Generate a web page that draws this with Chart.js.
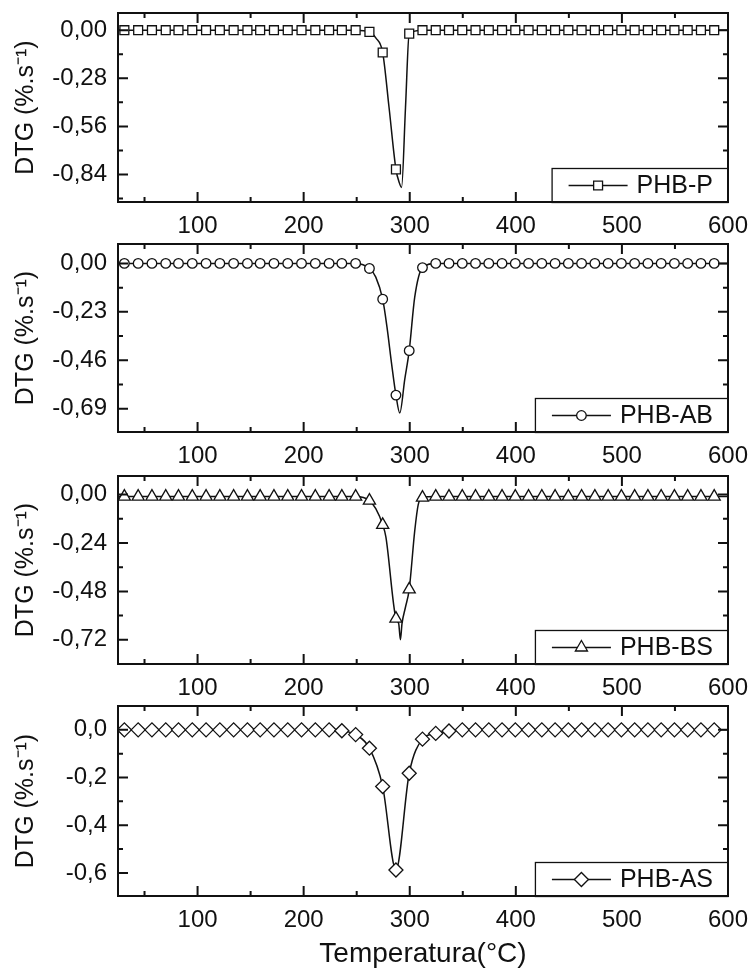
<!DOCTYPE html>
<html>
<head>
<meta charset="utf-8">
<script src="https://cdn.jsdelivr.net/npm/chart.js@4/dist/chart.umd.min.js"></script>
<style>
  body { margin: 0; background: #fff; }
  #wrap { position: relative; width: 749px; height: 971px; }
  canvas { position: absolute; left: 0; }
</style>
</head>
<body>
<div id="wrap">
  <canvas id="c1" width="749" height="244" style="top:0px"></canvas>
  <canvas id="c2" width="749" height="243" style="top:231px"></canvas>
  <canvas id="c3" width="749" height="244" style="top:462px"></canvas>
  <canvas id="c4" width="749" height="278" style="top:693px"></canvas>
</div>
<script>
// temperaturas dos marcadores (°C)
const temps = [31, 44, 57, 70, 82, 95, 108, 121, 134, 147,
  159, 172, 185, 198, 211, 224, 236, 249, 262, 274.5,
  287, 299.5, 312, 324.5, 337, 349.5, 362, 374.5, 387, 399.5,
  412, 424.5, 437, 449.5, 462, 474.5, 487, 499.5, 512, 524.5,
  537, 549.5, 562, 574.5, 587];

// DTG nos marcadores
const dtgP = [0, 0, 0, 0, 0, 0, 0, 0, 0, 0,
  0, 0, 0, 0, 0, 0, 0, 0, -0.01, -0.13,
  -0.81, -0.02, 0, 0, 0, 0, 0, 0, 0, 0,
  0, 0, 0, 0, 0, 0, 0, 0, 0, 0,
  0, 0, 0, 0, 0];
const dtgAB = [0, 0, 0, 0, 0, 0, 0, 0, 0, 0,
  0, 0, 0, 0, 0, 0, 0, 0, -0.024, -0.17,
  -0.625, -0.414, -0.02, 0, 0, 0, 0, 0, 0, 0,
  0, 0, 0, 0, 0, 0, 0, 0, 0, 0,
  0, 0, 0, 0, 0];
const dtgBS = [-0.01, -0.01, -0.01, -0.01, -0.01, -0.01, -0.01, -0.01, -0.01, -0.01,
  -0.01, -0.01, -0.01, -0.01, -0.01, -0.01, -0.01, -0.01, -0.03, -0.15,
  -0.615, -0.47, -0.015, -0.01, -0.01, -0.01, -0.01, -0.01, -0.01, -0.01,
  -0.01, -0.01, -0.01, -0.01, -0.01, -0.01, -0.01, -0.01, -0.01, -0.01,
  -0.01, -0.01, -0.01, -0.01, -0.01];
const dtgAS = [0, 0, 0, 0, 0, 0, 0, 0, 0, 0,
  0, 0, 0, 0, 0, 0, -0.004, -0.02, -0.077, -0.238,
  -0.588, -0.182, -0.039, -0.015, -0.005, 0, 0, 0, 0, 0,
  0, 0, 0, 0, 0, 0, 0, 0, 0, 0,
  0, 0, 0, 0, 0];

// pontos extra da curva (entre marcadores, perto do pico, e extremos)
const curveTP = [25, 268, 280.5, 290, 292.3, 296, 600];
const curveP = [0, -0.045, -0.45, -0.885, -0.915, -0.45, 0];
const curveTAB = [25, 268, 278.5, 283, 290.6, 295.3, 304.7, 600];
const curveAB = [0, -0.065, -0.30, -0.48, -0.71, -0.55, -0.16, 0];
const curveTBS = [25, 268, 277.5, 289.6, 291.2, 292.7, 295.9, 304.7, 308, 600];
const curveBS = [-0.01, -0.07, -0.21, -0.64, -0.72, -0.64, -0.56, -0.18, -0.05, -0.01];
const curveTAS = [25, 600];
const curveAS = [0, 0];

// eixos
const xRange = [25, 600];
const xTicks = [100, 200, 300, 400, 500, 600];
const xLabels = ['100', '200', '300', '400', '500', '600'];
const xMinor = [50, 150, 250, 350, 450, 550];

const yRangeP = [-1.0, 0.1];
const yTicksP = [0, -0.28, -0.56, -0.84];
const yLabelsP = ['0,00', '-0,28', '-0,56', '-0,84'];
const yMinorP = [-0.14, -0.42, -0.70, -0.98];

const yRangeAB = [-0.80, 0.092];
const yTicksAB = [0, -0.23, -0.46, -0.69];
const yLabelsAB = ['0,00', '-0,23', '-0,46', '-0,69'];
const yMinorAB = [-0.115, -0.345, -0.575];

const yRangeBS = [-0.84, 0.092];
const yTicksBS = [0, -0.24, -0.48, -0.72];
const yLabelsBS = ['0,00', '-0,24', '-0,48', '-0,72'];
const yMinorBS = [-0.12, -0.36, -0.60];

const yRangeAS = [-0.697, 0.1];
const yTicksAS = [0, -0.2, -0.4, -0.6];
const yLabelsAS = ['0,0', '-0,2', '-0,4', '-0,6'];
const yMinorAS = [-0.1, -0.3, -0.5];

const FONT = "'Liberation Sans', Arial, sans-serif";
const INK = '#111';

function points(xs, ys) {
    return xs.map((x, i) => ({ x: x, y: ys[i] }));
}

// curva = marcadores + pontos extra, ordenados por temperatura
function curve(mx, my, ex, ey) {
    return points(mx, my).concat(points(ex, ey)).sort((a, b) => a.x - b.x);
}

// moldura, ticks para dentro nos quatro lados e legenda em caixa
const framePlugin = {
    id: 'frame',
    afterDraw(chart) {
        const ctx = chart.ctx;
        const a = chart.chartArea;
        const sx = chart.scales.x, sy = chart.scales.y;
        const cfg = chart.options.plugins.frame;
        ctx.save();
        ctx.strokeStyle = INK;
        ctx.lineWidth = 2;
        ctx.beginPath();
        const tick = (vals, len, horiz) => {
            vals.forEach(v => {
                if (horiz) {
                    const px = sx.getPixelForValue(v);
                    ctx.moveTo(px, a.bottom); ctx.lineTo(px, a.bottom - len);
                    ctx.moveTo(px, a.top); ctx.lineTo(px, a.top + len);
                } else {
                    const py = sy.getPixelForValue(v);
                    ctx.moveTo(a.left, py); ctx.lineTo(a.left + len, py);
                    ctx.moveTo(a.right, py); ctx.lineTo(a.right - len, py);
                }
            });
        };
        tick(xTicks, 10, true);
        tick(xMinor, 5, true);
        tick(cfg.yTicks, 10, false);
        tick(cfg.yMinor, 5, false);
        ctx.stroke();

        // legenda
        ctx.font = '25px ' + FONT;
        const tw = ctx.measureText(cfg.name).width;
        const bw = 17 + 59 + 9 + tw + 15;
        const bh = 34;
        const bx = a.right - bw, by = a.bottom - bh;
        ctx.fillStyle = '#fff';
        ctx.fillRect(bx, by, bw, bh);
        ctx.lineWidth = 1.3;
        ctx.strokeRect(bx + 0.5, by + 0.5, bw - 0.5, bh);
        const cy = by + bh / 2 + 0.5;
        ctx.lineWidth = 1.4;
        ctx.beginPath();
        ctx.moveTo(bx + 17, cy); ctx.lineTo(bx + 76, cy);
        ctx.stroke();
        ctx.fillStyle = '#fff';
        ctx.lineWidth = 1.3;
        Chart.helpers.drawPoint(ctx, { pointStyle: cfg.style, radius: cfg.radius, rotation: 0, borderWidth: 1.3 }, bx + 46.5, cy);
        ctx.fillStyle = INK;
        ctx.textBaseline = 'middle';
        ctx.textAlign = 'left';
        ctx.fillText(cfg.name, bx + 85, cy + 1);

        // moldura
        ctx.lineWidth = 2;
        ctx.strokeRect(a.left, a.top, a.right - a.left, a.bottom - a.top);
        ctx.restore();
    }
};

function makePanel(p) {
    return new Chart(document.getElementById(p.id), {
        type: 'line',
        data: {
            datasets: [{
                data: points(temps, p.marks),
                showLine: false,
                pointStyle: p.style,
                pointRadius: p.radius,
                pointBackgroundColor: '#fff',
                pointBorderColor: INK,
                pointBorderWidth: 1.3,
                order: 0
            }, {
                data: curve(temps, p.marks, p.extraT, p.extra),
                borderColor: INK,
                borderWidth: 1.5,
                pointRadius: 0,
                cubicInterpolationMode: 'monotone',
                fill: false,
                order: 1
            }]
        },
        options: {
            responsive: false,
            animation: false,
            events: [],
            layout: { padding: { top: p.padTop, right: 21, left: 0, bottom: 0 } },
            plugins: {
                legend: { display: false },
                tooltip: { enabled: false },
                frame: { name: p.name, style: p.style, radius: p.radius, yTicks: p.yTicks, yMinor: p.yMinor }
            },
            scales: {
                x: {
                    type: 'linear',
                    min: xRange[0],
                    max: xRange[1],
                    afterBuildTicks: s => { s.ticks = xTicks.map(v => ({ value: v })); },
                    afterFit: s => { s.height = p.xh; s.paddingLeft = 0; s.paddingRight = 0; },
                    grid: { display: false, drawTicks: false },
                    border: { display: false },
                    ticks: {
                        autoSkip: false,
                        maxRotation: 0,
                        padding: 10,
                        color: INK,
                        font: { family: FONT, size: 24 },
                        callback: (v, i) => xLabels[i]
                    },
                    title: {
                        display: p.xTitle,
                        text: 'Temperatura(°C)',
                        color: INK,
                        font: { family: FONT, size: 28 },
                        padding: { top: 0, bottom: 0 }
                    }
                },
                y: {
                    type: 'linear',
                    min: p.yRange[0],
                    max: p.yRange[1],
                    afterBuildTicks: s => { s.ticks = p.yTicks.map(v => ({ value: v })); },
                    afterFit: s => { s.width = 118; s.paddingTop = 0; s.paddingBottom = 0; },
                    grid: { display: false, drawTicks: false },
                    border: { display: false },
                    ticks: {
                        autoSkip: false,
                        padding: 11,
                        color: INK,
                        font: { family: FONT, size: 24 },
                        callback: (v, i) => p.yLabels[i]
                    },
                    title: {
                        display: true,
                        text: 'DTG (%.s⁻¹)',
                        color: INK,
                        font: { family: FONT, size: 25 },
                        padding: { top: 11, bottom: 0 }
                    }
                }
            }
        },
        plugins: [framePlugin]
    });
}

window.onload = () => {
    makePanel({ id: 'c1', name: 'PHB-P', style: 'rect', radius: 6.3, marks: dtgP, extraT: curveTP, extra: curveP,
        yRange: yRangeP, yTicks: yTicksP, yLabels: yLabelsP, yMinor: yMinorP, padTop: 13, xh: 42, xTitle: false });
    makePanel({ id: 'c2', name: 'PHB-AB', style: 'circle', radius: 4.8, marks: dtgAB, extraT: curveTAB, extra: curveAB,
        yRange: yRangeAB, yTicks: yTicksAB, yLabels: yLabelsAB, yMinor: yMinorAB, padTop: 13, xh: 42, xTitle: false });
    makePanel({ id: 'c3', name: 'PHB-BS', style: 'triangle', radius: 7, marks: dtgBS, extraT: curveTBS, extra: curveBS,
        yRange: yRangeBS, yTicks: yTicksBS, yLabels: yLabelsBS, yMinor: yMinorBS, padTop: 14, xh: 42, xTitle: false });
    makePanel({ id: 'c4', name: 'PHB-AS', style: 'rectRot', radius: 7, marks: dtgAS, extraT: curveTAS, extra: curveAS,
        yRange: yRangeAS, yTicks: yTicksAS, yLabels: yLabelsAS, yMinor: yMinorAS, padTop: 13, xh: 75, xTitle: true });
};
</script>
</body>
</html>
